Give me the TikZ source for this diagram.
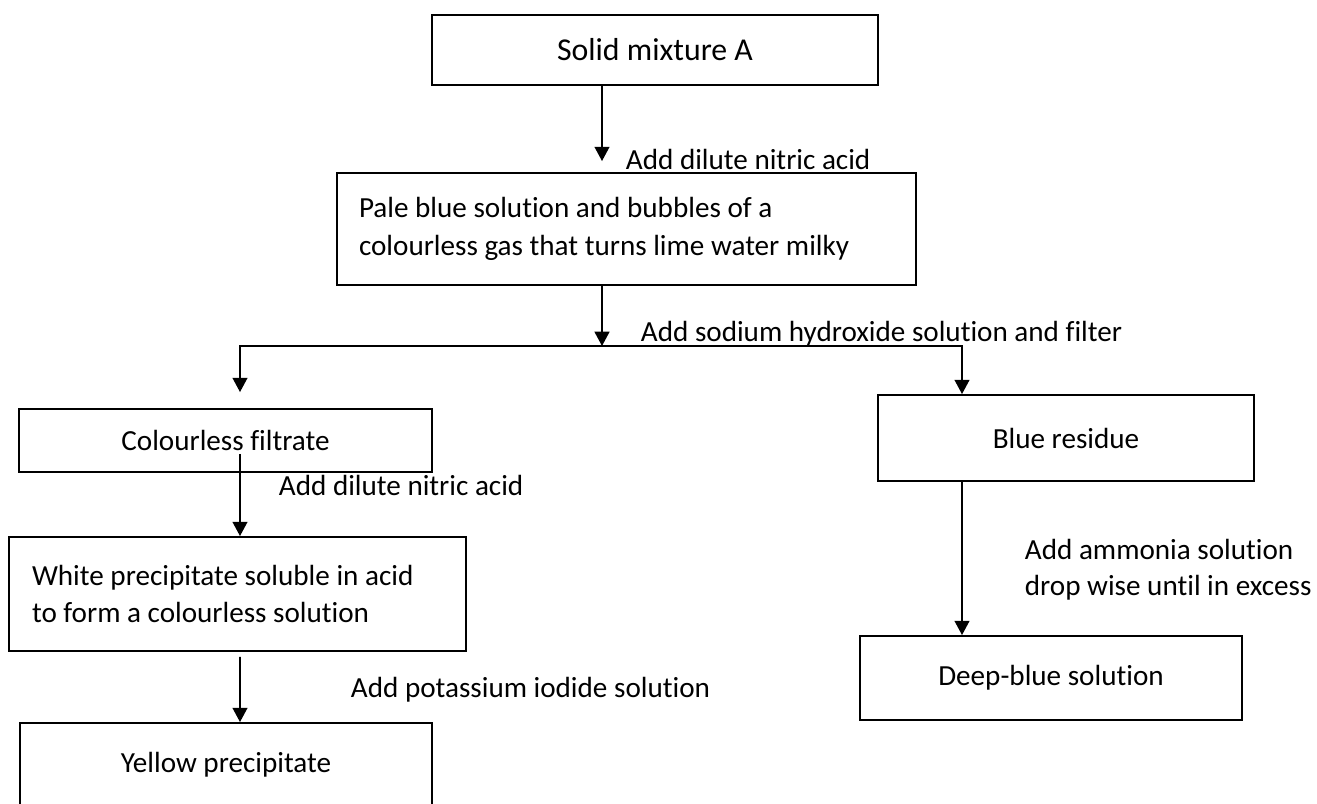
\documentclass[tikz,border=0pt]{standalone}
\usepackage{fontspec}
\setmainfont{Carlito}[Ligatures=NoCommon]
\usetikzlibrary{arrows.meta}
\newlength\pxu
\setlength\pxu{0.3774pt}

\begin{document}
\begin{tikzpicture}[
    x=\pxu, y=-\pxu,
    line width=0.7pt,
    font=\fontsize{11}{13.5}\selectfont,
    stage/.style={rectangle, draw, inner sep=0pt, text centered},
    note/.style={rectangle, draw, align=flush left, inner ysep=0pt, font=\fontsize{11}{14.2}\selectfont},
    hint/.style={inner sep=0pt, anchor=west},
    arr/.style={-{Triangle[width=5.6pt,length=5.4pt]}}
]
    \useasboundingbox (0,0) rectangle (1317,804);

    % Sample and first test
    \node[stage, minimum width=446\pxu, minimum height=70\pxu, font=\fontsize{12}{14}\selectfont] (solid) at (655,50) {Solid mixture A};
    \node[note, text width=535\pxu, inner xsep=22\pxu, minimum height=112\pxu] (pale) at (626.5,229) {Pale blue solution and bubbles of a\\colourless gas that turns lime water milky};

    % Filtrate side
    \node[stage, minimum width=413\pxu, minimum height=63\pxu] (filtrate) at (225.5,440.5) {Colourless filtrate};
    \node[note, text width=411\pxu, inner xsep=23\pxu, minimum height=114\pxu] (white) at (237.5,594) {White precipitate soluble in acid\\to form a colourless solution};
    \node[stage, minimum width=412\pxu, minimum height=84\pxu] (yellow) at (226,765) {Yellow precipitate};

    % Residue side
    \node[stage, minimum width=376\pxu, minimum height=86\pxu] (residue) at (1066,438) {Blue residue};
    \node[stage, minimum width=382\pxu, minimum height=84\pxu] (deep) at (1051,678) {Deep-blue solution};

    % Reagents
    \node[hint] (acid1) at (625,159) {Add dilute nitric acid};
    \node[hint] (soda) at (640,334) {Add sodium hydroxide solution and filter};
    \node[hint] (acid2) at (278,485) {Add dilute nitric acid};
    \node[hint, align=left] (ammonia) at (1024,570) {Add ammonia solution\\drop wise until in excess};
    \node[hint] (iodide) at (350,690) {Add potassium iodide solution};

    % Branch point
    \coordinate (split) at (602,346);

    % Connections
    \draw[arr] ([xshift=-53\pxu]solid.south) -- ([xshift=-24.5\pxu, yshift=11\pxu]pale.north);
    \draw[arr] ([xshift=-24.5\pxu]pale.south) -- (split);
    \draw[arr] (split) -| ([xshift=14.5\pxu, yshift=16\pxu]filtrate.north);
    \draw[arr] (split) -| ([xshift=-104\pxu]residue.north);
    \draw[arr] ([xshift=14.5\pxu, yshift=19\pxu]filtrate.south) -- ([xshift=2.5\pxu]white.north);
    \draw[arr] ([xshift=2.5\pxu, yshift=-5\pxu]white.south) -- ([xshift=14\pxu]yellow.north);
    \draw[arr] ([xshift=-104\pxu]residue.south) -- ([xshift=-89\pxu]deep.north);
\end{tikzpicture}
\end{document}
